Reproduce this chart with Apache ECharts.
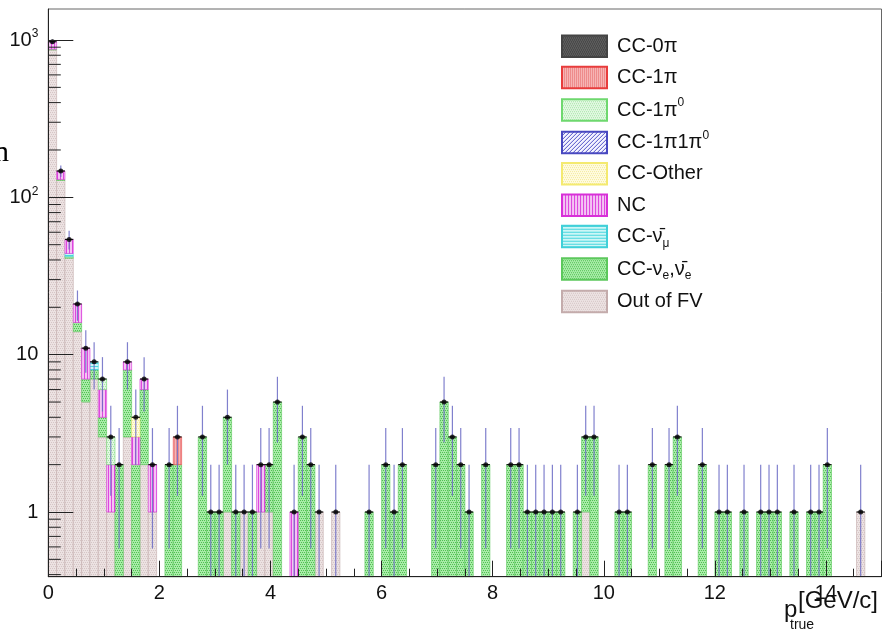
<!DOCTYPE html>
<html>
<head>
<meta charset="utf-8">
<script src="https://cdn.jsdelivr.net/npm/echarts@6/dist/echarts.min.js"></script>
<style>
  html, body { margin: 0; padding: 0; background: #ffffff; }
  #chart { width: 883px; height: 630px; }
</style>
</head>
<body>
<div id="chart"></div>
<script>
// Histogram binning of p_true: 100 bins of 0.15 GeV/c from 0 to 15
const binWidth = 0.15;
const nBins = 100;

// Events per bin for each interaction channel (stacked bottom -> top: outFV first)
const outFV = [
  865, 128, 41, 14, 5, 7, 3, 1, 0, 3,
  0, 2, 1, 0, 0, 0, 0, 0, 0, 0,
  0, 1, 0, 1, 0, 1, 1, 0, 0, 0,
  0, 0, 1, 0, 1, 0, 0, 0, 0, 0,
  0, 0, 0, 0, 0, 0, 0, 0, 0, 0,
  0, 0, 0, 0, 0, 0, 0, 0, 0, 0,
  0, 0, 0, 0, 1, 0, 0, 0, 0, 0,
  0, 0, 0, 0, 0, 0, 0, 0, 0, 0,
  0, 0, 0, 0, 0, 0, 0, 0, 0, 0,
  0, 0, 0, 0, 0, 0, 0, 1, 0, 0
];
const ccNue = [
  10, 2, 1, 2, 2, 1, 1, 0, 2, 5,
  2, 4, 0, 0, 2, 2, 0, 0, 3, 1,
  1, 3, 1, 0, 1, 0, 1, 5, 0, 0,
  3, 2, 0, 0, 0, 0, 0, 0, 1, 0,
  2, 1, 2, 0, 0, 0, 2, 5, 3, 2,
  1, 0, 2, 0, 0, 2, 2, 1, 1, 1,
  1, 1, 0, 1, 2, 3, 0, 0, 1, 1,
  0, 0, 2, 0, 2, 3, 0, 0, 2, 0,
  1, 1, 0, 1, 0, 1, 1, 1, 0, 1,
  0, 1, 1, 2, 0, 0, 0, 0, 0, 0
];
const ccNumubar = [
  0, 0, 2, 0, 0, 1, 0, 0, 0, 0,
  0, 0, 0, 0, 0, 0, 0, 0, 0, 0,
  0, 0, 0, 0, 0, 0, 0, 0, 0, 0,
  0, 0, 0, 0, 0, 0, 0, 0, 0, 0,
  0, 0, 0, 0, 0, 0, 0, 0, 0, 0,
  0, 0, 0, 0, 0, 0, 0, 0, 0, 0,
  0, 0, 0, 0, 0, 0, 0, 0, 0, 0,
  0, 0, 0, 0, 0, 0, 0, 0, 0, 0,
  0, 0, 0, 0, 0, 0, 0, 0, 0, 0,
  0, 0, 0, 0, 0, 0, 0, 0, 0, 0
];
const nc = [
  100, 17, 10, 5, 4, 0, 2, 1, 0, 1,
  1, 1, 1, 0, 0, 0, 0, 0, 0, 0,
  0, 0, 0, 0, 0, 1, 0, 0, 0, 1,
  0, 0, 0, 0, 0, 0, 0, 0, 0, 0,
  0, 0, 0, 0, 0, 0, 0, 0, 0, 0,
  0, 0, 0, 0, 0, 0, 0, 0, 0, 0,
  0, 0, 0, 0, 0, 0, 0, 0, 0, 0,
  0, 0, 0, 0, 0, 0, 0, 0, 0, 0,
  0, 0, 0, 0, 0, 0, 0, 0, 0, 0,
  0, 0, 0, 0, 0, 0, 0, 0, 0, 0
];
const ccOther = [
  0, 0, 0, 0, 0, 0, 0, 0, 0, 0,
  1, 0, 0, 0, 0, 0, 0, 0, 0, 0,
  0, 0, 0, 0, 0, 0, 0, 0, 0, 0,
  0, 0, 0, 0, 0, 0, 0, 0, 0, 0,
  0, 0, 0, 0, 0, 0, 0, 0, 0, 0,
  0, 0, 0, 0, 0, 0, 0, 0, 0, 0,
  0, 0, 0, 0, 0, 0, 0, 0, 0, 0,
  0, 0, 0, 0, 0, 0, 0, 0, 0, 0,
  0, 0, 0, 0, 0, 0, 0, 0, 0, 0,
  0, 0, 0, 0, 0, 0, 0, 0, 0, 0
];
const cc1pi1pi0 = new Array(100).fill(0);
const cc1pi0 = [
  0, 0, 0, 0, 0, 0, 1, 1, 0, 0,
  0, 0, 0, 0, 0, 0, 0, 0, 0, 0,
  0, 0, 0, 0, 0, 0, 0, 0, 0, 0,
  0, 0, 0, 0, 0, 0, 0, 0, 0, 0,
  0, 0, 0, 0, 0, 0, 0, 0, 0, 0,
  0, 0, 0, 0, 0, 0, 0, 0, 0, 0,
  0, 0, 0, 0, 0, 0, 0, 0, 0, 0,
  0, 0, 0, 0, 0, 0, 0, 0, 0, 0,
  0, 0, 0, 0, 0, 0, 0, 0, 0, 0,
  0, 0, 0, 0, 0, 0, 0, 0, 0, 0
];
const cc1pi = [
  0, 0, 0, 0, 0, 0, 0, 0, 0, 0,
  0, 0, 0, 0, 0, 1, 0, 0, 0, 0,
  0, 0, 0, 0, 0, 0, 0, 0, 0, 0,
  0, 0, 0, 0, 0, 0, 0, 0, 0, 0,
  0, 0, 0, 0, 0, 0, 0, 0, 0, 0,
  0, 0, 0, 0, 0, 0, 0, 0, 0, 0,
  0, 0, 0, 0, 0, 0, 0, 0, 0, 0,
  0, 0, 0, 0, 0, 0, 0, 0, 0, 0,
  0, 0, 0, 0, 0, 0, 0, 0, 0, 0,
  0, 0, 0, 0, 0, 0, 0, 0, 0, 0
];
const cc0pi = new Array(100).fill(0);

// Observed counts per bin (points with Poisson error bars)
const dataCounts = [
  975, 147, 54, 21, 11, 9, 7, 3, 2, 9,
  4, 7, 2, 0, 2, 3, 0, 0, 3, 1,
  1, 4, 1, 1, 1, 2, 2, 5, 0, 1,
  3, 2, 1, 0, 1, 0, 0, 0, 1, 0,
  2, 1, 2, 0, 0, 0, 2, 5, 3, 2,
  1, 0, 2, 0, 0, 2, 2, 1, 1, 1,
  1, 1, 0, 1, 3, 3, 0, 0, 1, 1,
  0, 0, 2, 0, 2, 3, 0, 0, 2, 0,
  1, 1, 0, 1, 0, 1, 1, 1, 0, 1,
  0, 1, 1, 2, 0, 0, 0, 1, 0, 0
];

// Axis ranges and tick values
const xMin = 0, xMax = 15, xInterval = 2;
const yMin = 0.388, yMax = 1574;
const yMinorTicks = [0.4, 0.5, 0.6, 0.7, 0.8, 0.9,
  2, 3, 4, 5, 6, 7, 8, 9,
  20, 30, 40, 50, 60, 70, 80, 90,
  200, 300, 400, 500, 600, 700, 800, 900];

const FONT = "'Liberation Sans', Arial, sans-serif";

// ---------- fill patterns (ROOT-like hatch styles) ----------
function makePattern(size, bg, draw) {
  const c = document.createElement('canvas');
  c.width = size; c.height = size;
  const g = c.getContext('2d');
  g.fillStyle = bg;
  g.fillRect(0, 0, size, size);
  if (draw) draw(g, size);
  return { image: c, repeat: 'repeat' };
}
function dots(color, step) {
  return function (g, s) {
    g.fillStyle = color;
    for (let y = 0; y < s; y += step) {
      for (let x = (y / step) % 2 ? step / 2 : 0; x < s; x += step) g.fillRect(x, y, 1, 1);
    }
  };
}
function vlines(color, step) {
  return function (g, s) { g.fillStyle = color; for (let x = 0; x < s; x += step) g.fillRect(x, 0, 1, s); };
}
function hlines(color, step) {
  return function (g, s) { g.fillStyle = color; for (let y = 0; y < s; y += step) g.fillRect(0, y, s, 1); };
}
function diag(color) {
  return function (g, s) {
    g.strokeStyle = color; g.lineWidth = 1;
    g.beginPath();
    for (let k = -s; k <= s; k += 4) { g.moveTo(k, s); g.lineTo(k + s, 0); }
    g.stroke();
  };
}

const channels = [
  { name: 'CC-0π',        label: '{n|CC-0π}',                 values: cc0pi,     fill: makePattern(4, '#5c5c5c', dots('#3a3a3a', 2)), edge: '#444444' },
  { name: 'CC-1π',        label: '{n|CC-1π}',                 values: cc1pi,     fill: makePattern(4, '#f6b4b4', vlines('#ee8c8c', 2)), edge: '#e83c3c' },
  { name: 'CC-1π0',       label: '{n|CC-1π}{sup|0}',           values: cc1pi0,    fill: makePattern(4, '#e2f8e2', dots('#a6e6a6', 2)), edge: '#6ed86e' },
  { name: 'CC-1π1π0',     label: '{n|CC-1π1π}{sup|0}',         values: cc1pi1pi0, fill: makePattern(8, '#f4f4ff', diag('#5050c8')), edge: '#4848c0' },
  { name: 'CC-Other',     label: '{n|CC-Other}',              values: ccOther,   fill: makePattern(4, '#fffbe0', dots('#f4ec9c', 2)), edge: '#f4ea70' },
  { name: 'NC',           label: '{n|NC}',                    values: nc,        fill: makePattern(3, '#f4c4f4', vlines('#de48de', 3)), edge: '#d830d8' },
  { name: 'CC-numubar',   label: '{n|CC-ν\u0304}{sub|μ}',      values: ccNumubar, fill: makePattern(3, '#cdf6f6', hlines('#4ad6de', 3)), edge: '#40d0d8' },
  { name: 'CC-nue',       label: '{n|CC-ν}{sub|e}{n|,ν\u0304}{sub|e}', values: ccNue, fill: makePattern(4, '#a8eca8', dots('#52c052', 2)), edge: '#5cc85c' },
  { name: 'Out of FV',    label: '{n|Out of FV}',             values: outFV,     fill: makePattern(4, '#ece2e2', dots('#d6c6c6', 2)), edge: '#c4acac' }
];
const labelOf = {};
channels.forEach(function (c) { labelOf[c.name] = c.label; });

// Stacked segments, drawn bottom -> top in reverse legend order
const stackOrder = channels.slice().reverse();
const cumulative = new Array(nBins).fill(0);
const segmentData = {};
stackOrder.forEach(function (ch) {
  const segs = [];
  for (let i = 0; i < nBins; i++) {
    const v = ch.values[i];
    if (v > 0) {
      const lo = cumulative[i], hi = cumulative[i] + v;
      if (hi > yMin) segs.push([i * binWidth, (i + 1) * binWidth, Math.max(lo, yMin), hi]);
      cumulative[i] = hi;
    }
  }
  segmentData[ch.name] = segs;
});

function barRenderer(ch) {
  return function (params, api) {
    const a = api.coord([api.value(0), api.value(2)]);
    const b = api.coord([api.value(1), api.value(3)]);
    return {
      type: 'rect',
      shape: { x: a[0], y: b[1], width: b[0] - a[0], height: a[1] - b[1] },
      style: { fill: ch.fill, stroke: ch.edge, lineWidth: 0.6 }
    };
  };
}

const stackSeries = stackOrder.map(function (ch) {
  return {
    name: ch.name,
    type: 'custom',
    renderItem: barRenderer(ch),
    encode: { x: [0, 1], y: [2, 3] },
    itemStyle: { color: ch.fill, borderColor: ch.edge, borderWidth: 1 },
    data: segmentData[ch.name],
    z: 2,
    silent: true
  };
});

// Points and Poisson error bars
const pointData = [], errData = [];
for (let i = 0; i < nBins; i++) {
  const n = dataCounts[i];
  if (n > 0) {
    const c = (i + 0.5) * binWidth;
    pointData.push([c, n]);
    const e = Math.sqrt(n);
    errData.push([c, i * binWidth, (i + 1) * binWidth, Math.max(n - e, yMin), n + e, n]);
  }
}

const option = {
  animation: false,
  backgroundColor: '#ffffff',
  textStyle: { fontFamily: FONT },
  grid: { left: 48.3, right: 1.5, top: 9, bottom: 53.3, show: true, borderColor: '#666666', borderWidth: 1, backgroundColor: 'transparent' },
  legend: {
    orient: 'vertical',
    left: 561,
    top: 34.4,
    padding: 0,
    icon: 'rect',
    itemWidth: 45,
    itemHeight: 21.5,
    itemGap: 7.8,
    selectedMode: false,
    data: channels.map(function (c) { return c.name; }),
    formatter: function (name) { return labelOf[name]; },
    textStyle: {
      color: '#111111',
      padding: [0, 0, 0, 5],
      rich: {
        n: { fontSize: 20, fontFamily: FONT, color: '#111111', lineHeight: 26 },
        sup: { fontSize: 12, fontFamily: FONT, color: '#111111', verticalAlign: 'top', lineHeight: 26 },
        sub: { fontSize: 12, fontFamily: FONT, color: '#111111', verticalAlign: 'bottom', lineHeight: 26 }
      }
    }
  },
  xAxis: {
    type: 'value',
    min: xMin, max: xMax, interval: xInterval,
    z: 10,
    axisLine: { show: true, lineStyle: { color: '#222222', width: 1 } },
    axisTick: { show: true, inside: true, length: 16, lineStyle: { color: '#222222' } },
    minorTick: { show: true, splitNumber: 4, length: 8, lineStyle: { color: '#222222' } },
    splitLine: { show: false },
    axisLabel: { show: true, fontSize: 20, color: '#111111', margin: 7, showMaxLabel: false }
  },
  yAxis: {
    type: 'log',
    logBase: 10,
    min: yMin, max: yMax,
    z: 10,
    axisLine: { show: true, lineStyle: { color: '#222222', width: 1 } },
    axisTick: { show: true, inside: true, length: 25, lineStyle: { color: '#222222' } },
    splitLine: { show: false },
    axisLabel: {
      show: true, margin: 10, color: '#111111',
      showMinLabel: false, showMaxLabel: false,
      formatter: function (v) {
        const p = Math.round(Math.log10(v));
        if (Math.abs(Math.log10(v) - p) > 1e-6) return '';
        if (p === 0) return '{b|1}';
        if (p === 1) return '{b|10}';
        return '{b|10}{s|' + p + '}';
      },
      rich: {
        b: { fontSize: 20, color: '#111111', lineHeight: 24 },
        s: { fontSize: 12, color: '#111111', verticalAlign: 'top', lineHeight: 24 }
      }
    }
  },
  graphic: [
    { type: 'text', left: -6, top: 138, silent: true,
      style: { text: 'n', fontFamily: "'Liberation Serif', 'Times New Roman', serif", fontSize: 30, fill: '#000000' } },
    { type: 'text', left: 784, top: 598, silent: true,
      style: { text: 'p', fontFamily: FONT, fontSize: 24, fill: '#111111' } },
    { type: 'text', left: 790, top: 618, silent: true,
      style: { text: 'true', fontFamily: FONT, fontSize: 14, fill: '#111111' } },
    { type: 'text', left: 798, top: 589, silent: true,
      style: { text: '[GeV/c]', fontFamily: FONT, fontSize: 24, fill: '#111111' } }
  ],
  series: stackSeries.concat([
    {
      name: 'yMinorTicks',
      type: 'custom',
      silent: true,
      z: 9,
      data: yMinorTicks.map(function (v) { return [xMin, v]; }),
      encode: { x: 0, y: 1 },
      renderItem: function (params, api) {
        const p = api.coord([api.value(0), api.value(1)]);
        return { type: 'line', shape: { x1: p[0], y1: p[1], x2: p[0] + 12.5, y2: p[1] }, style: { stroke: '#222222', lineWidth: 1 } };
      }
    },
    {
      name: 'errors',
      type: 'custom',
      silent: true,
      z: 5,
      data: errData,
      encode: { x: 0, y: 5 },
      renderItem: function (params, api) {
        const c = api.value(0);
        const top = api.coord([c, api.value(4)]);
        const bot = api.coord([c, api.value(3)]);
        const l = api.coord([api.value(1), api.value(5)]);
        const r = api.coord([api.value(2), api.value(5)]);
        return {
          type: 'group',
          children: [
            { type: 'line', shape: { x1: top[0], y1: top[1], x2: bot[0], y2: bot[1] }, style: { stroke: '#6a6ac4', lineWidth: 1.2, opacity: 0.85 } },
            { type: 'line', shape: { x1: l[0], y1: l[1], x2: r[0], y2: r[1] }, style: { stroke: '#111111', lineWidth: 1.2 } }
          ]
        };
      }
    },
    {
      name: 'data',
      type: 'scatter',
      silent: true,
      z: 6,
      symbol: 'circle',
      symbolSize: 5,
      itemStyle: { color: '#000000' },
      data: pointData
    }
  ])
};

const chart = echarts.init(document.getElementById('chart'), null, { renderer: 'canvas' });
chart.setOption(option);
</script>
</body>
</html>
